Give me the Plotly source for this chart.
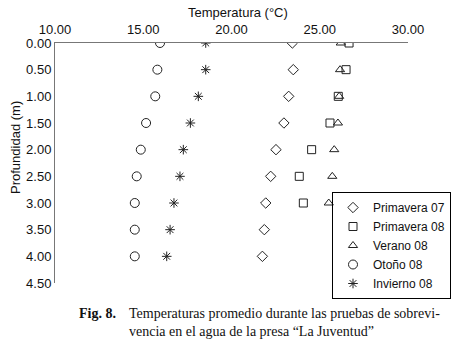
import plotly.graph_objects as go

depth9 = [0.0, 0.5, 1.0, 1.5, 2.0, 2.5, 3.0, 3.5, 4.0]
depth7 = [0.0, 0.5, 1.0, 1.5, 2.0, 2.5, 3.0]

primavera07 = [23.45, 23.50, 23.24, 22.97, 22.52, 22.22, 21.94, 21.86, 21.75]
primavera08 = [26.66, 26.49, 26.05, 25.58, 24.54, 23.84, 24.07]
verano08 = [26.19, 26.15, 26.10, 26.03, 25.82, 25.71, 25.51]
otono08 = [15.95, 15.80, 15.68, 15.16, 14.86, 14.63, 14.52, 14.52, 14.52]
invierno08 = [18.54, 18.54, 18.12, 17.67, 17.27, 17.08, 16.74, 16.52, 16.33]

series = [
    ("Primavera 07", primavera07, depth9, "diamond-open", 8),
    ("Primavera 08", primavera08, depth7, "square-open", 8),
    ("Verano 08", verano08, depth7, "triangle-up-open", 8),
    ("Otoño 08", otono08, depth9, "circle-open", 9),
    ("Invierno 08", invierno08, depth9, "asterisk-open", 8),
]

fig = go.Figure()
for name, xs, ys, sym, sz in series:
    fig.add_trace(go.Scatter(
        x=xs, y=ys, mode="markers", name=name,
        marker=dict(symbol=sym, size=sz, color="#222", line=dict(width=1, color="#222")),
    ))

L, R, T, B = 55, 408, 43, 283
PW, PH = R - L, B - T

axis_font = dict(family="Liberation Sans, Arial, sans-serif", size=13, color="#111")
fig.update_layout(
    width=452, height=360,
    margin=dict(l=L, r=452 - R, t=T, b=360 - B, autoexpand=False),
    paper_bgcolor="white", plot_bgcolor="white",
    font=axis_font,
    showlegend=True,
    legend=dict(
        x=(451 - L) / PW, y=(B - 192) / PH, xanchor="right", yanchor="top",
        bordercolor="black", borderwidth=1, bgcolor="rgba(255,255,255,0)",
        font=dict(family="Liberation Sans, Arial, sans-serif", size=12, color="#111"),
        itemwidth=30,
    ),
    xaxis=dict(
        range=[10, 30], side="top", dtick=5, tickformat=".2f",
        showgrid=False, zeroline=False, showline=True, linecolor="#777", linewidth=1,
        ticks="", tickfont=axis_font, ticklabelstandoff=3,
    ),
    yaxis=dict(
        range=[4.5, 0], dtick=0.5, tickformat=".2f",
        showgrid=False, zeroline=False, showline=True, linecolor="#777", linewidth=1,
        ticks="", tickfont=axis_font,
    ),
)

fig.add_annotation(text="Temperatura (°C)", xref="paper", yref="paper",
                   x=(238 - L) / PW, y=(B - 12) / PH, xanchor="center", yanchor="middle",
                   showarrow=False, font=axis_font)
fig.add_annotation(text="Profundidad (m)", xref="paper", yref="paper",
                   x=(15 - L) / PW, y=(B - 148) / PH, xanchor="center", yanchor="middle",
                   textangle=-90, showarrow=False, font=axis_font)

cap_font = dict(family="Liberation Serif, Times New Roman, serif", size=14, color="#111")
fig.add_annotation(text="<b>Fig. 8.</b>", xref="paper", yref="paper",
                   x=(77 - L) / PW, xanchor="left", y=(B - 313) / PH, yanchor="middle",
                   showarrow=False, font=cap_font)
fig.add_annotation(text="Temperaturas promedio durante las pruebas de sobrevi-<br>vencia en el agua de la presa “La Juventud”",
                   xref="paper", yref="paper", align="left",
                   x=(127 - L) / PW, xanchor="left", y=(B - 304) / PH, yanchor="top",
                   showarrow=False, font=cap_font)

fig.write_html("out.html", config={"displayModeBar": False},
               post_script="document.body.style.margin='0';document.body.style.overflow='hidden';")
